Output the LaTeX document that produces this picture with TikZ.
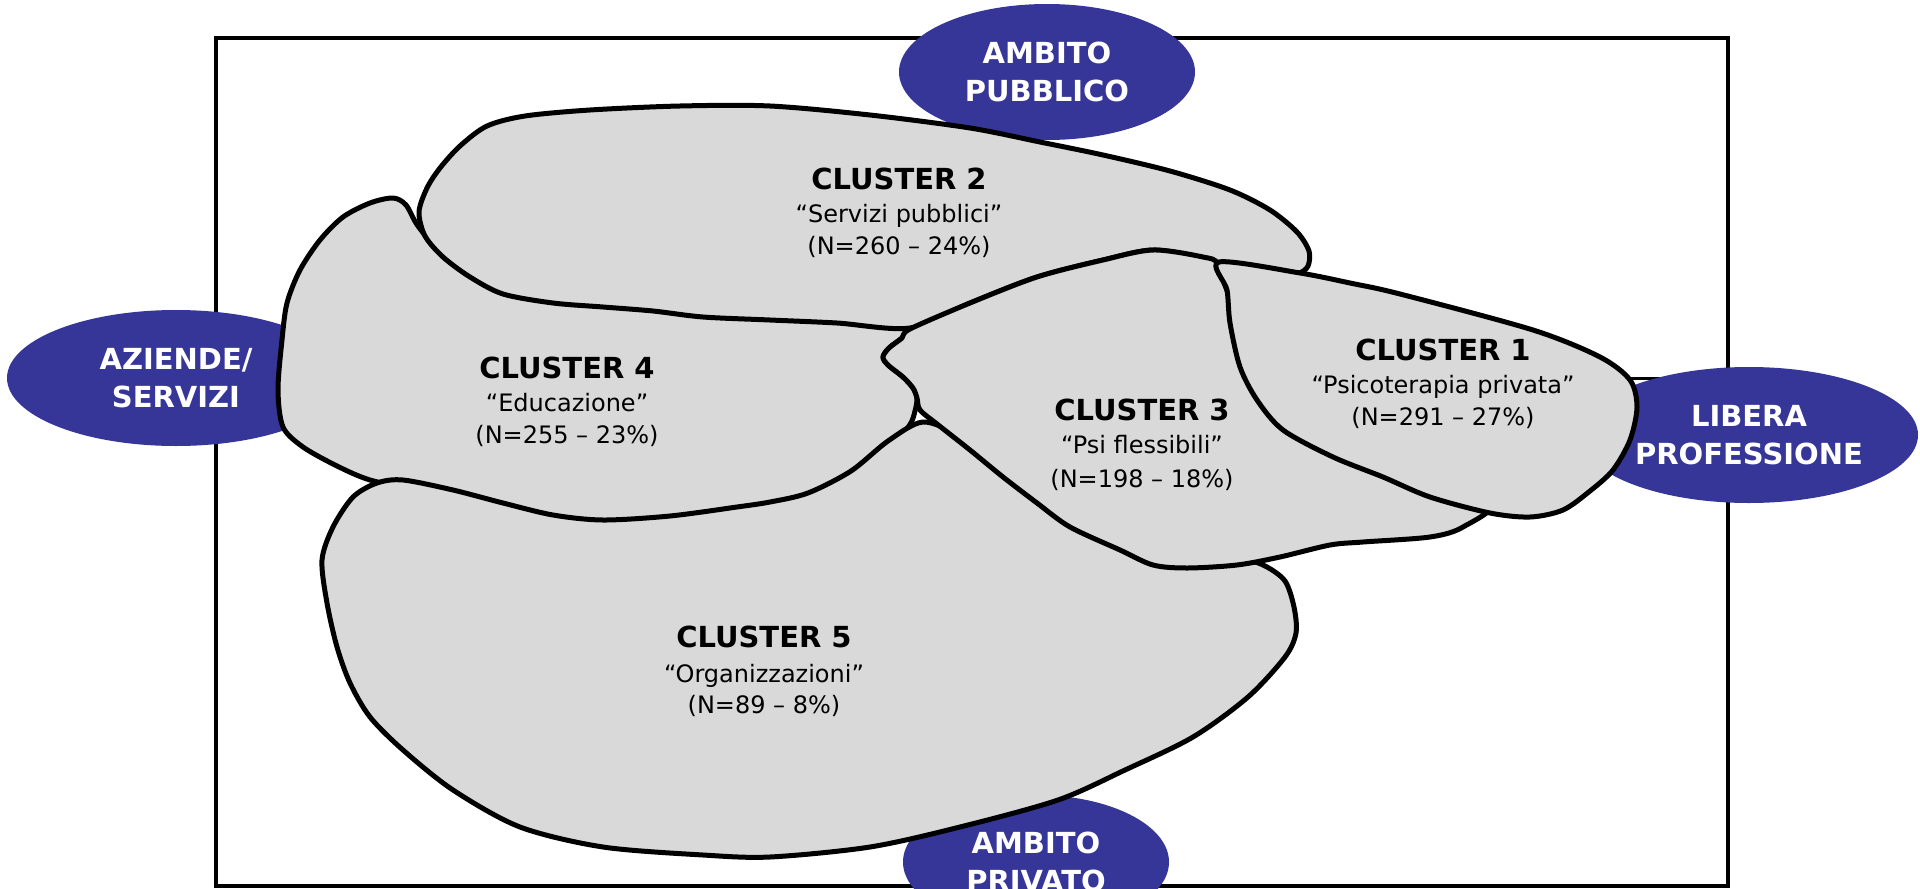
\documentclass[tikz,border=0pt]{standalone}
\usepackage{fontspec}
\setmainfont{DejaVu Sans}
\usetikzlibrary{shapes.geometric}
\definecolor{ovalblue}{RGB}{54,54,152}
\definecolor{clgray}{RGB}{217,217,217}
\begin{document}
\begin{tikzpicture}[x=1pt,y=-1pt,
  outerbox/.style={draw=black, line width=3.5pt},
  axisline/.style={draw=black, line width=3pt},
  oval/.style={ellipse, fill=ovalblue, text=white, inner sep=0pt, align=center,
    font=\bfseries\fontsize{29}{38}\selectfont},
  cl/.style={draw=black, fill=clgray, line width=5pt, line join=round},
  clhead/.style={anchor=base, inner sep=0pt, font=\bfseries\fontsize{29}{34}\selectfont},
  cltext/.style={anchor=base, inner sep=0pt, font=\fontsize{24}{30}\selectfont},
]
\useasboundingbox (0,0) rectangle (1920,889);
\begin{scope}
\clip (0,0) rectangle (1920,889);
\draw[outerbox] (216,38) rectangle (1728,886);
% axes (mostly hidden)
\coordinate (vt) at (1040,100);
\coordinate (vb) at (1040,830);
\coordinate (hl) at (200,378);
\coordinate (hr) at (1700,378);
\draw[axisline] (vt) -- (vb);
\draw[axisline] (hl) -- (hr);
% ovals
\node[oval, minimum width=296, minimum height=136] (pub) at (1047,72) {AMBITO\\PUBBLICO};
\node[oval, minimum width=338, minimum height=136] (az) at (176,378) {AZIENDE/\\SERVIZI};
\node[oval, minimum width=338, minimum height=136] (lib) at (1749,435) {LIBERA\\PROFESSIONE};
\node[oval, minimum width=266, minimum height=134] (pri) at (1036,862) {AMBITO\\PRIVATO};
% cluster 4
\draw[cl] plot[smooth cycle, tension=0.5] coordinates {(393,198) (406,205) (418,226) (445,258) (485,284) (545,300) (700,313) (850,320) (905,325) (910,330) (902,338) (889,348) (883,357) (888,365) (903,377) (913,388) (917,398) (915,411) (909,426) (885,452) (840,482) (770,511) (670,523) (600,526) (500,509) (420,491) (370,480) (337,466) (303,447) (283,427) (278,390) (282,340) (287,303) (300,270) (320,240) (343,217) (370,203)};
% cluster 2
\draw[cl] plot[smooth cycle, tension=0.5] coordinates {(419,212) (427,188) (440,168) (460,146) (487,126) (525,116) (590,110) (680,106) (770,106) (870,115) (970,128) (1040,142) (1103,155) (1170,171) (1230,190) (1270,210) (1297,232) (1309,251) (1308,266) (1299,273) (1283,271) (1217,263) (1203,258) (1153,250) (1103,260) (1037,277) (970,303) (910,328) (837,323) (770,320) (703,317) (653,311) (603,307) (553,303) (503,294) (470,277) (443,257) (425,236)};
% cluster 5
\draw[cl] plot[smooth cycle, tension=0.5] coordinates {(377,483) (403,480) (453,490) (503,503) (553,515) (603,520) (670,516) (737,507) (770,502) (808,493) (851,471) (888,441) (923,422) (960,436) (1000,464) (1060,505) (1150,550) (1240,559) (1265,566) (1285,581) (1294,607) (1296,633) (1285,657) (1248,697) (1193,737) (1125,770) (1058,800) (960,827) (870,847) (770,857) (703,855) (603,847) (520,827) (453,790) (403,750) (370,717) (350,683) (337,647) (327,603) (322,560) (333,527) (353,497)};
% cluster 3
\draw[cl] plot[smooth cycle, tension=0.5] coordinates {(910,329) (970,303) (1037,277) (1103,260) (1153,250) (1203,257) (1218,264) (1232,300) (1290,380) (1400,466) (1492,500) (1463,527) (1430,537) (1363,542) (1330,545) (1280,557) (1237,565) (1187,568) (1153,565) (1120,550) (1070,527) (1037,503) (1003,477) (970,450) (937,424) (920,410) (917,398) (913,388) (903,377) (888,365) (883,357) (889,348) (902,338)};
% cluster 1
\draw[cl] plot[smooth cycle, tension=0.5] coordinates {(1219,262) (1300,273) (1350,283) (1400,294) (1533,330) (1600,357) (1630,380) (1637,407) (1630,440) (1613,470) (1590,491) (1563,510) (1530,517) (1490,513) (1430,497) (1383,477) (1333,457) (1283,430) (1257,400) (1240,367) (1230,323) (1227,290)};
% texts
\node[clhead] (c2a) at (899,189) {CLUSTER 2};
\node[cltext] (c2b) at (899,222) {“Servizi pubblici”};
\node[cltext] (c2c) at (899,254) {(N=260 – 24\%)};
\node[clhead] (c4a) at (567,378) {CLUSTER 4};
\node[cltext] (c4b) at (567,411) {“Educazione”};
\node[cltext] (c4c) at (567,443) {(N=255 – 23\%)};
\node[clhead] (c3a) at (1142,420) {CLUSTER 3};
\node[cltext] (c3b) at (1142,453) {“Psi flessibili”};
\node[cltext] (c3c) at (1142,487) {(N=198 – 18\%)};
\node[clhead] (c1a) at (1443,360) {CLUSTER 1};
\node[cltext] (c1b) at (1443,393) {“Psicoterapia privata”};
\node[cltext] (c1c) at (1443,425) {(N=291 – 27\%)};
\node[clhead] (c5a) at (764,647) {CLUSTER 5};
\node[cltext] (c5b) at (764,682) {“Organizzazioni”};
\node[cltext] (c5c) at (764,713) {(N=89 – 8\%)};
\end{scope}
\end{tikzpicture}
\end{document}
